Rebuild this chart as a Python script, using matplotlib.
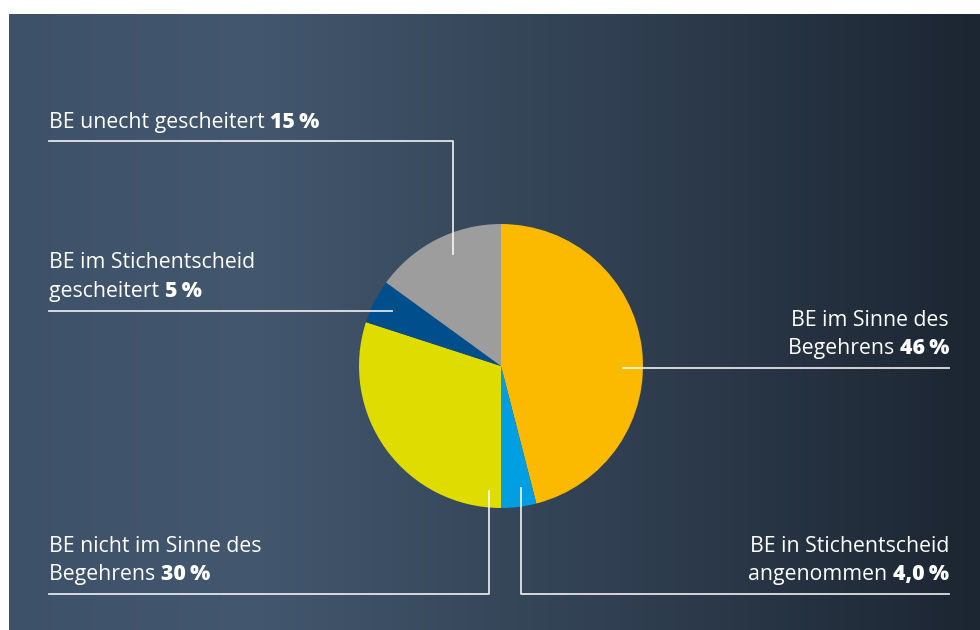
import matplotlib
matplotlib.use("Agg")
import matplotlib.pyplot as plt
import numpy as np
from matplotlib.colors import LinearSegmentedColormap

# ---- data ----
categories = ["BE im Sinne des Begehrens", "BE in Stichentscheid angenommen",
              "BE nicht im Sinne des Begehrens", "BE im Stichentscheid gescheitert",
              "BE unecht gescheitert"]
values = [46, 4.0, 30, 5, 15]
value_labels = ["46\u2009%", "4,0\u2009%", "30\u2009%", "5\u2009%", "15\u2009%"]
label_lines = [["BE im Sinne des", "Begehrens"],
               ["BE in Stichentscheid", "angenommen"],
               ["BE nicht im Sinne des", "Begehrens"],
               ["BE im Stichentscheid", "gescheitert"],
               ["BE unecht gescheitert"]]
colors = ["#FBBA00", "#009FE3", "#DEDC00", "#004F8C", "#9D9D9D"]

W, H = 980, 630
fig = plt.figure(figsize=(W / 100, H / 100), dpi=100)
fig.patch.set_facecolor("white")
ax = fig.add_axes([0, 0, 1, 1])

def Y(y):
    return H - y

# background gradient
bg = LinearSegmentedColormap.from_list("bg", [
    (0.0, (0.240, 0.318, 0.408)),
    (0.25, (0.262, 0.340, 0.430)),
    (0.55, (0.205, 0.268, 0.343)),
    (1.0, (0.110, 0.147, 0.196)),
])
grad = np.linspace(0, 1, 512).reshape(1, -1)
ax.imshow(grad, cmap=bg, aspect="auto", extent=[9, W, 0, Y(14)], zorder=0)

# pie
cx, cy, r = 501, 366, 142
ax.pie(values, colors=colors, startangle=90, counterclock=False,
       center=(cx, Y(cy)), radius=r, frame=True,
       wedgeprops=dict(linewidth=0, antialiased=True))
ax.set_xlim(0, W)
ax.set_ylim(0, H)
ax.set_aspect("auto")
ax.axis("off")

fam = ["Open Sans", "DejaVu Sans"]
fs = 15.3
lw = 1.3
lc = (1, 1, 1, 0.85)

renderer = fig.canvas.get_renderer()
inv = ax.transData.inverted()

def width_of(t):
    bb = t.get_window_extent(renderer=renderer)
    p0 = inv.transform((bb.x0, bb.y0))
    p1 = inv.transform((bb.x1, bb.y0))
    return p1[0] - p0[0]

def label(lines, val, x, y_last, align, dy=28.5):
    n = len(lines)
    for i, s in enumerate(lines):
        yy = y_last - (n - 1 - i) * dy
        if i < n - 1:
            ax.text(x, Y(yy), s, color="white", fontsize=fs, family=fam,
                    ha=align, va="baseline")
        else:
            if align == "left":
                t = ax.text(x, Y(yy), s + " ", color="white", fontsize=fs,
                            family=fam, ha="left", va="baseline")
                w = width_of(t)
                ax.text(x + w, Y(yy), val, color="white", fontsize=fs,
                        family=fam, weight=800, ha="left", va="baseline")
            else:
                t = ax.text(x, Y(yy), val, color="white", fontsize=fs,
                            family=fam, weight=800, ha="right", va="baseline")
                w = width_of(t)
                ax.text(x - w, Y(yy), s + " ", color="white", fontsize=fs,
                        family=fam, ha="right", va="baseline")

# 15 % (top left)
label(label_lines[4], value_labels[4], 49, 128, "left")
ax.plot([49, 453, 453], [Y(141), Y(141), Y(254)], color=lc, lw=lw)
# 5 %
label(label_lines[3], value_labels[3], 49, 297, "left")
ax.plot([49, 392], [Y(311), Y(311)], color=lc, lw=lw)
# 46 %
label(label_lines[0], value_labels[0], 949, 354, "right")
ax.plot([623, 949], [Y(368), Y(368)], color=lc, lw=lw)
# 30 %
label(label_lines[2], value_labels[2], 49, 580, "left")
ax.plot([49, 489, 489], [Y(594), Y(594), Y(491)], color=lc, lw=lw)
# 4,0 %
label(label_lines[1], value_labels[1], 949, 580, "right")
ax.plot([949, 521, 521], [Y(594), Y(594), Y(488)], color=lc, lw=lw)

ax.set_xlim(0, W)
ax.set_ylim(0, H)
fig.savefig("out.png", dpi=100, facecolor="white")
